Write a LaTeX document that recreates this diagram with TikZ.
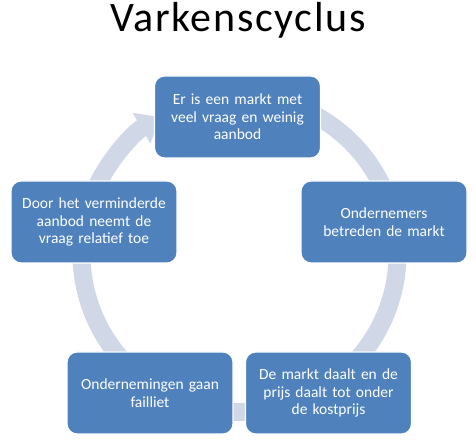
\documentclass[tikz,border=0pt]{standalone}
\usepackage{fontspec}
\setmainfont{Carlito}
\usepackage{tikz}
\usetikzlibrary{arrows.meta}
\definecolor{boxblue}{RGB}{79,129,189}
\definecolor{ringblue}{RGB}{208,216,232}

\begin{document}
\begin{tikzpicture}[box/.style = {draw=white, line width=1.2pt, fill=boxblue, rounded corners=10pt,
      minimum width=166pt, minimum height=82pt, text width=160pt, align=center, inner sep=0pt,
      text=white, font=\fontsize{15.5}{17.5}\selectfont},
    ring/.style = {ringblue, line width=18pt},
    x=1pt, y=1pt]
        \useasboundingbox (0,0) rectangle (476,441);
        \node[anchor=base, font=\fontsize{42}{46}\selectfont\addfontfeature{LetterSpace=4}] (title) at (238,409) {Varkenscyclus};
        \coordinate (mid) at (239.5,187);
        \draw[ring, -{Triangle[width=34pt,length=22pt]}] (mid) ++(62:158) arc[start angle=62, end angle=-240, radius=158];
        \node[box] (markt) at (237.5,324) {Er is een markt met\\ veel vraag en weinig\\ aanbod};
        \node[box] (betreden) at (384,219) {Ondernemers\\ betreden de markt};
        \node[box] (daalt) at (328.5,48) {De markt daalt en de\\ prijs daalt tot onder\\ de kostprijs};
        \node[box] (failliet) at (150,48) {Ondernemingen gaan\\ failliet};
        \node[box] (vraag) at (94,219) {Door het verminderde\\ aanbod neemt de\\ vraag relatief toe};
      \end{tikzpicture}
\end{document}
